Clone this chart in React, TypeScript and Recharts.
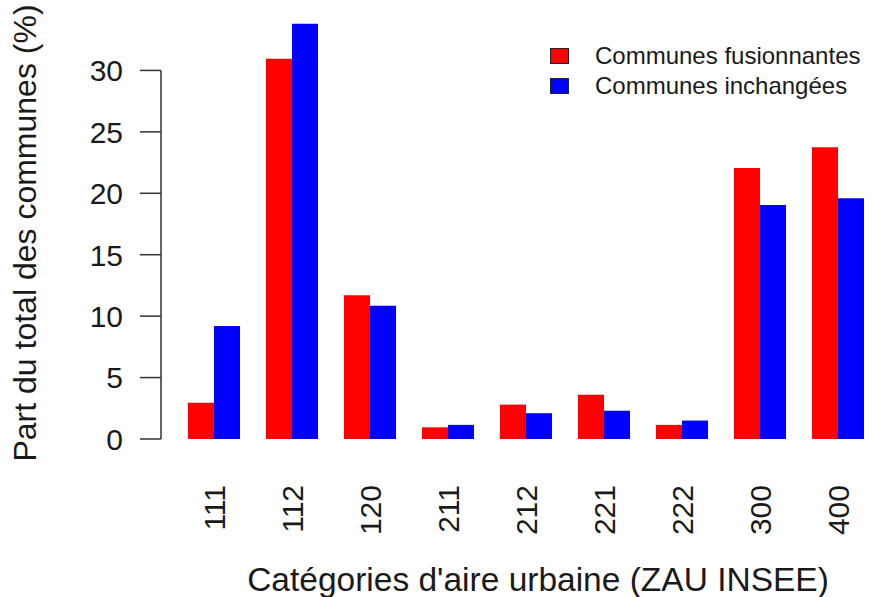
import React from 'react';
import { BarChart, Bar, XAxis, YAxis } from 'recharts';

// catégories ZAU et parts (%)
const categories = ['111', '112', '120', '211', '212', '221', '222', '300', '400'];
const fusionnantes = [2.95, 30.95, 11.7, 0.95, 2.8, 3.6, 1.15, 22.05, 23.75];
const inchangees = [9.2, 33.8, 10.85, 1.15, 2.1, 2.3, 1.5, 19.05, 19.6];
const yTicks = [0, 5, 10, 15, 20, 25, 30];

const series = [
  { key: 'fusion', name: 'Communes fusionnantes', color: '#ff0000' },
  { key: 'inchangee', name: 'Communes inchangées', color: '#0000ff' },
];

const FONT = '"Liberation Sans", Arial, Helvetica, sans-serif';
const TEXT = '#1a1a1a';
const AXIS = '#333';

const CHART_W = 880;
const CHART_H = 597;
const TOP = 9;
const X_AXIS_H = 158;
const Y_MAX = 35;
const PLOT_H = CHART_H - TOP - X_AXIS_H;
const UNIT = PLOT_H / Y_MAX;

const data = categories.map((c, i) => ({
  cat: c,
  fusion: fusionnantes[i],
  inchangee: inchangees[i],
}));

const YTick = (props: any) => {
  const { y, payload } = props;
  const axisX = 161;
  return (
    <g>
      {payload.value === 0 && (
        <line x1={axisX} x2={axisX} y1={y} y2={y - 30 * UNIT} stroke={AXIS} strokeWidth={1.5} />
      )}
      <line x1={140} x2={axisX} y1={y} y2={y} stroke={AXIS} strokeWidth={1.5} />
      <text x={123} y={y} dy="0.36em" textAnchor="end" fontSize={30} fontFamily={FONT} fill={TEXT}>
        {payload.value}
      </text>
    </g>
  );
};

const XTick = (props: any) => {
  const { x, payload } = props;
  return (
    <text
      transform={`translate(${x + 11},${485}) rotate(-90)`}
      textAnchor="end"
      fontSize={30}
      fontFamily={FONT}
      fill={TEXT}
    >
      {payload.value}
    </text>
  );
};

export default function App() {
  return (
    <div style={{ position: 'absolute', left: 0, top: 0, width: 880, height: 597, overflow: 'hidden', background: '#fff' }}>
      <BarChart
        width={CHART_W}
        height={CHART_H}
        data={data}
        margin={{ top: TOP, right: 3, bottom: 0, left: 0 }}
        barGap={0}
        barSize={26}
      >
        <XAxis
          dataKey="cat"
          height={X_AXIS_H}
          axisLine={false}
          tickLine={false}
          interval={0}
          padding={{ left: 14, right: 0 }}
          tick={<XTick />}
          label={{
            content: () => (
              <text x={538} y={591} textAnchor="middle" fontSize={33.5} fontFamily={FONT} fill={TEXT}>
                Catégories d'aire urbaine (ZAU INSEE)
              </text>
            ),
          }}
        />
        <YAxis
          width={161}
          domain={[0, Y_MAX]}
          ticks={yTicks}
          axisLine={false}
          tickLine={false}
          tick={<YTick />}
          label={{
            content: () => (
              <text
                transform="translate(36,233) rotate(-90)"
                textAnchor="middle"
                fontSize={32}
                fontFamily={FONT}
                fill={TEXT}
              >
                Part du total des communes (%)
              </text>
            ),
          }}
        />
        {series.map((s) => (
          <Bar key={s.key} dataKey={s.key} name={s.name} fill={s.color} isAnimationActive={false} />
        ))}
      </BarChart>
      <div style={{ position: 'absolute', left: 550, top: 41, fontFamily: FONT, fontSize: 24, color: TEXT }}>
        {series.map((s) => (
          <div key={s.key} style={{ display: 'flex', alignItems: 'center', height: 30 }}>
            <span
              style={{
                display: 'inline-block',
                width: 17,
                height: 14,
                background: s.color,
                border: '1px solid #222',
                marginRight: 26,
              }}
            />
            <span>{s.name}</span>
          </div>
        ))}
      </div>
    </div>
  );
}
